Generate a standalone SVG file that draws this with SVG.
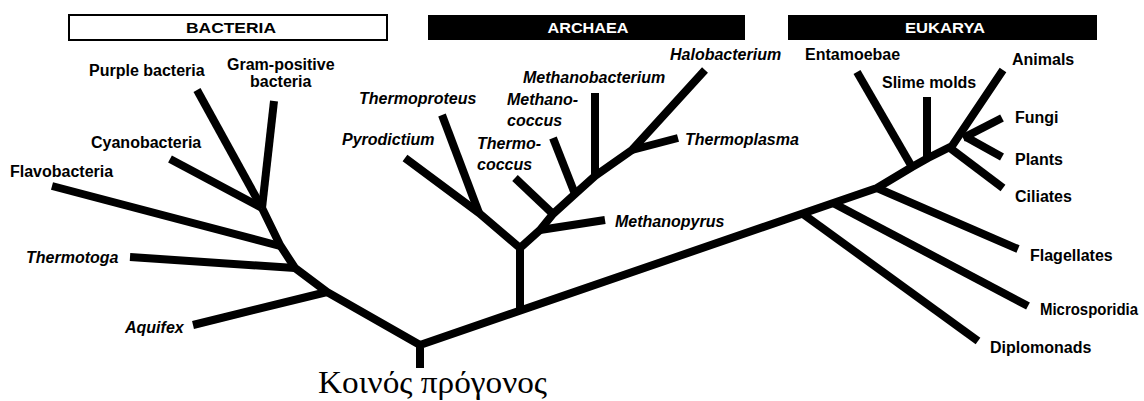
<svg xmlns="http://www.w3.org/2000/svg" width="1144" height="401" viewBox="0 0 1144 401">
<style>
.br{fill:none;stroke:#000;stroke-width:8;stroke-linecap:butt;stroke-linejoin:round}
.lb{font-family:"Liberation Sans",Arial,sans-serif;font-size:16px;font-weight:bold;fill:#000}
.it{font-style:italic}
.hd{font-family:"Liberation Sans",Arial,sans-serif;font-size:14px;font-weight:bold;text-anchor:middle}
.root{font-family:"Liberation Serif","Times New Roman",serif;font-size:32px;fill:#000}
</style>
<rect width="1144" height="401" fill="#fff"/>
<g id="headers">
  <g id="hdr-bacteria">
    <rect x="69" y="15" width="318" height="25" fill="#fff" stroke="#000" stroke-width="2"/>
    <text class="hd" x="231" y="33" fill="#000" textLength="90" lengthAdjust="spacingAndGlyphs">BACTERIA</text>
  </g>
  <g id="hdr-archaea">
    <rect x="428" y="15" width="317" height="25" fill="#000"/>
    <text class="hd" x="588" y="33" fill="#fff" font-weight="normal" textLength="81" lengthAdjust="spacingAndGlyphs">ARCHAEA</text>
  </g>
  <g id="hdr-eukarya">
    <rect x="788" y="15" width="309" height="25" fill="#000"/>
    <text class="hd" x="945" y="33" fill="#fff" font-weight="normal" textLength="80" lengthAdjust="spacingAndGlyphs">EUKARYA</text>
  </g>
</g>
<g id="connectors">
  <polyline class="br" points="420,368 420,345 877,188 912,167 928,158 952,146 1003,70"/>
  <polyline class="br" points="420,345 327,292 295,268 280,245 262,208"/>
  <line class="br" x1="327" y1="292" x2="193" y2="325"/>
  <line class="br" x1="295" y1="268" x2="130" y2="257"/>
  <line class="br" x1="280" y1="246" x2="52" y2="186"/>
  <line class="br" x1="262" y1="208" x2="170" y2="159"/>
  <line class="br" x1="262" y1="208" x2="197" y2="90"/>
  <line class="br" x1="262" y1="208" x2="274" y2="101"/>
  <line class="br" x1="520" y1="312" x2="520" y2="248"/>
  <polyline class="br" points="520,248 540,230 553,214 575,194 595,176 632,150 705,70"/>
  <polyline class="br" points="520,248 479,213 405,158"/>
  <line class="br" x1="479" y1="213" x2="442" y2="115"/>
  <line class="br" x1="540" y1="230" x2="605" y2="220"/>
  <line class="br" x1="553" y1="214" x2="515" y2="178"/>
  <line class="br" x1="575" y1="194" x2="553" y2="138"/>
  <line class="br" x1="595" y1="176" x2="595" y2="93"/>
  <line class="br" x1="632" y1="150" x2="678" y2="138"/>
  <line class="br" x1="803" y1="214" x2="978" y2="341"/>
  <line class="br" x1="833" y1="203" x2="1028" y2="306"/>
  <line class="br" x1="877" y1="188" x2="1018" y2="249"/>
  <line class="br" x1="912" y1="167" x2="857" y2="72"/>
  <line class="br" x1="927" y1="159" x2="927" y2="97"/>
  <line class="br" x1="950" y1="148" x2="1003" y2="188"/>
  <line class="br" x1="963" y1="138" x2="1002" y2="118"/>
  <line class="br" x1="966" y1="137" x2="1002" y2="157"/>
</g>
<g id="purple-bacteria"><text class="lb" x="89" y="76">Purple bacteria</text></g>
<g id="gram-positive"><text class="lb" x="227" y="70">Gram-positive</text><text class="lb" x="250" y="87">bacteria</text></g>
<g id="cyanobacteria"><text class="lb" x="91" y="148">Cyanobacteria</text></g>
<g id="flavobacteria"><text class="lb" x="10" y="177">Flavobacteria</text></g>
<g id="thermotoga"><text class="lb it" x="26" y="263">Thermotoga</text></g>
<g id="aquifex"><text class="lb it" x="125" y="333">Aquifex</text></g>
<g id="thermoproteus"><text class="lb it" x="359" y="104">Thermoproteus</text></g>
<g id="pyrodictium"><text class="lb it" x="342" y="145">Pyrodictium</text></g>
<g id="thermococcus"><text class="lb it" x="477" y="149">Thermo-</text><text class="lb it" x="477" y="170">coccus</text></g>
<g id="methanococcus"><text class="lb it" x="507" y="105">Methano-</text><text class="lb it" x="507" y="126">coccus</text></g>
<g id="methanobacterium"><text class="lb it" x="523" y="83">Methanobacterium</text></g>
<g id="halobacterium"><text class="lb it" x="670" y="60">Halobacterium</text></g>
<g id="thermoplasma"><text class="lb it" x="685" y="145">Thermoplasma</text></g>
<g id="methanopyrus"><text class="lb it" x="615" y="227">Methanopyrus</text></g>
<g id="entamoebae"><text class="lb" x="805" y="60">Entamoebae</text></g>
<g id="slime-molds"><text class="lb" x="882" y="88">Slime molds</text></g>
<g id="animals"><text class="lb" x="1012" y="65">Animals</text></g>
<g id="fungi"><text class="lb" x="1015" y="123">Fungi</text></g>
<g id="plants"><text class="lb" x="1015" y="165">Plants</text></g>
<g id="ciliates"><text class="lb" x="1015" y="202">Ciliates</text></g>
<g id="flagellates"><text class="lb" x="1030" y="261">Flagellates</text></g>
<g id="microsporidia"><text class="lb" x="1040" y="315" textLength="98" lengthAdjust="spacingAndGlyphs">Microsporidia</text></g>
<g id="diplomonads"><text class="lb" x="990" y="353">Diplomonads</text></g>
<g id="common-ancestor"><text class="root" x="318" y="393" textLength="229" lengthAdjust="spacingAndGlyphs">Κοινός πρόγονος</text></g>
</svg>
